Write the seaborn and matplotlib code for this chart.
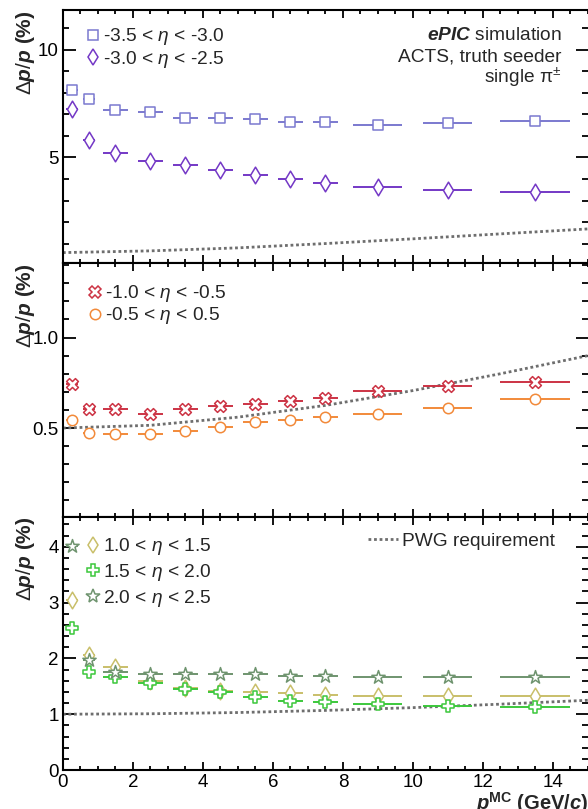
import matplotlib
matplotlib.use("Agg")
import matplotlib.pyplot as plt
from matplotlib.lines import Line2D
from matplotlib.ticker import MultipleLocator, FormatStrFormatter
import seaborn as sns

# p bins: centres and the half-widths drawn as horizontal bars
P_CENTERS = [0.25, 0.75, 1.5, 2.5, 3.5, 4.5, 5.5, 6.5, 7.5, 9, 11, 13.5]
P_ERR = [0.175, 0.175, 0.35, 0.35, 0.35, 0.35, 0.35, 0.35, 0.35, 0.7, 0.7, 1.0]

# backward region
RES_M35_M30 = [8.12, 7.73, 7.22, 7.12, 6.85, 6.85, 6.79, 6.63, 6.63, 6.53, 6.60, 6.70]
RES_M30_M25 = [7.25, 5.80, 5.22, 4.85, 4.64, 4.43, 4.18, 3.98, 3.83, 3.64, 3.49, 3.39]
# barrel region
RES_M10_M05 = [0.745, 0.603, 0.603, 0.575, 0.603, 0.621, 0.632, 0.648, 0.666, 0.703, 0.731, 0.755]
RES_M05_P05 = [0.544, 0.471, 0.465, 0.465, 0.485, 0.507, 0.531, 0.544, 0.562, 0.580, 0.612, 0.663]
# forward region
RES_10_15 = [3.04, 2.06, 1.85, 1.60, 1.47, 1.41, 1.39, 1.38, 1.35, 1.33, 1.32, 1.33]
RES_15_20 = [2.54, 1.75, 1.66, 1.56, 1.45, 1.39, 1.31, 1.24, 1.21, 1.18, 1.14, 1.13]
RES_20_25 = [4.01, 1.97, 1.76, 1.72, 1.72, 1.72, 1.72, 1.69, 1.68, 1.66, 1.66, 1.66]

# PWG requirement
REQ_P = [0, 2.5, 5, 7.5, 10, 12.5, 15]
REQ_BACKWARD = [0.58, 0.66, 0.80, 1.00, 1.22, 1.45, 1.68]
REQ_BARREL = [0.50, 0.515, 0.56, 0.625, 0.707, 0.80, 0.90]
REQ_FORWARD = [1.00, 1.008, 1.03, 1.068, 1.118, 1.18, 1.25]

sns.set_theme(style="ticks")
plt.rcParams['font.family'] = ['Liberation Sans', 'DejaVu Sans']
plt.rcParams.update({
    'mathtext.fontset': 'custom',
    'mathtext.rm': 'Liberation Sans',
    'mathtext.it': 'Liberation Sans:italic',
    'mathtext.bf': 'Liberation Sans:bold',
    'mathtext.bfit': 'Liberation Sans:bold:italic',
    'axes.edgecolor': 'black',
    'xtick.color': 'black',
    'ytick.color': 'black',
})

FS = 13.8
TICK_FS = 13.5
LABEL_FS = 15
REQ_COLOR = '#6e6e6e'


def draw_series(ax, values, color, marker, size):
    ax.errorbar(P_CENTERS, values, xerr=P_ERR, fmt='none', ecolor=color,
                elinewidth=1.4, capsize=0, zorder=2)
    sns.scatterplot(x=P_CENTERS, y=values, marker=marker, s=size ** 2, color='white',
                    edgecolor=color, linewidth=1.1, ax=ax, zorder=3)
    return Line2D([], [], ls='none', marker=marker, markersize=size, mfc='white',
                  mec=color, mew=1.1)


def draw_requirement(ax, values):
    sns.lineplot(x=REQ_P, y=values, ax=ax, color=REQ_COLOR, lw=2,
                 linestyle=(0, (1, 1)), zorder=1)


def eta_legend(ax, handles, labels, anchor, spacing):
    return ax.legend(handles, labels, loc='upper left', bbox_to_anchor=anchor,
                     frameon=False, fontsize=FS, handlelength=0.8, handletextpad=0.12,
                     borderpad=0, borderaxespad=0, labelspacing=spacing)


fig, axes = plt.subplots(3, 1, figsize=(5.88, 8.09), dpi=100, sharex=True)
fig.subplots_adjust(left=0.107, right=1.0, top=0.9876, bottom=0.0482, hspace=0)

# 1) backward
ax = axes[0]
draw_requirement(ax, REQ_BACKWARD)
h1 = draw_series(ax, RES_M35_M30, '#7b79cf', 's', 7)
h2 = draw_series(ax, RES_M30_M25, '#7438c6', 'd', 8.5)
ax.set_ylim(0.08, 11.85)
ax.yaxis.set_major_locator(MultipleLocator(5))
ax.yaxis.set_minor_locator(MultipleLocator(1))
ax.yaxis.set_major_formatter(FormatStrFormatter('%d'))
eta_legend(ax, [h1, h2], [r'-3.5 < $\eta$ < -3.0', r'-3.0 < $\eta$ < -2.5'],
           (0.0425, 0.935), 0.08)
ax.text(0.95, 0.901, r'$\mathbfit{ePIC}$ simulation', transform=ax.transAxes,
        ha='right', va='center', fontsize=FS)
ax.text(0.95, 0.814, 'ACTS, truth seeder', transform=ax.transAxes,
        ha='right', va='center', fontsize=FS)
ax.text(0.95, 0.735, r'single π$^{\pm}$', transform=ax.transAxes,
        ha='right', va='center', fontsize=FS)

# 2) barrel
ax = axes[1]
draw_requirement(ax, REQ_BARREL)
h1 = draw_series(ax, RES_M10_M05, '#cc3344', 'X', 8.5)
h2 = draw_series(ax, RES_M05_P05, '#f28a3a', 'o', 7.5)
ax.set_ylim(0.01, 1.41)
ax.yaxis.set_major_locator(MultipleLocator(0.5))
ax.yaxis.set_minor_locator(MultipleLocator(0.1))
ax.yaxis.set_major_formatter(FormatStrFormatter('%.1f'))
eta_legend(ax, [h1, h2], [r'-1.0 < $\eta$ < -0.5', r'-0.5 < $\eta$ < 0.5'],
           (0.046, 0.921), 0.05)

# 3) forward
ax = axes[2]
draw_requirement(ax, REQ_FORWARD)
h1 = draw_series(ax, RES_10_15, '#c9bf6a', 'd', 8.5)
h2 = draw_series(ax, RES_15_20, '#3cc83c', 'P', 8)
h3 = draw_series(ax, RES_20_25, '#6f946f', '*', 10)
ax.set_ylim(0, 4.54)
ax.yaxis.set_major_locator(MultipleLocator(1))
ax.yaxis.set_minor_locator(MultipleLocator(0.2))
ax.yaxis.set_major_formatter(FormatStrFormatter('%d'))
leg = eta_legend(ax, [h1, h2, h3],
                 [r'1.0 < $\eta$ < 1.5', r'1.5 < $\eta$ < 2.0', r'2.0 < $\eta$ < 2.5'],
                 (0.0425, 0.922), 0.24)
ax.add_artist(leg)
req_handle = Line2D([], [], color=REQ_COLOR, lw=2, linestyle=(0, (1, 1)))
ax.legend([req_handle], ['PWG requirement'], loc='upper left',
          bbox_to_anchor=(0.581, 0.937), frameon=False, fontsize=FS,
          handlelength=1.56, handletextpad=0.2, borderpad=0, borderaxespad=0)

ax.set_xlim(0, 15)
ax.xaxis.set_major_locator(MultipleLocator(2))
ax.xaxis.set_minor_locator(MultipleLocator(0.5))
ax.set_xlabel(r'$\mathbfit{p}^{\mathbf{MC}}$ (GeV/$\mathbfit{c}$)', fontsize=14.5,
              fontweight='bold', loc='right')
ax.xaxis.set_label_coords(1.0, -0.078)

for ax in axes:
    ax.set_ylabel(r'$\Delta\mathbfit{p}/\mathbfit{p}$ (%)', fontsize=LABEL_FS,
                  fontweight='bold', loc='top')
    ax.yaxis.set_label_coords(-0.05, 1.0)
    ax.tick_params(which='both', direction='in', top=True, right=True,
                   labelsize=TICK_FS, width=1.3, pad=3)
    ax.tick_params(axis='x', which='major', length=6)
    ax.tick_params(axis='x', which='minor', length=3)
    ax.tick_params(axis='y', which='major', length=9)
    ax.tick_params(axis='y', which='minor', length=4.5)
    for side in ['left', 'top', 'bottom']:
        ax.spines[side].set_linewidth(1.5)
    ax.spines['right'].set_visible(False)

fig.savefig('out.png', dpi=100)
